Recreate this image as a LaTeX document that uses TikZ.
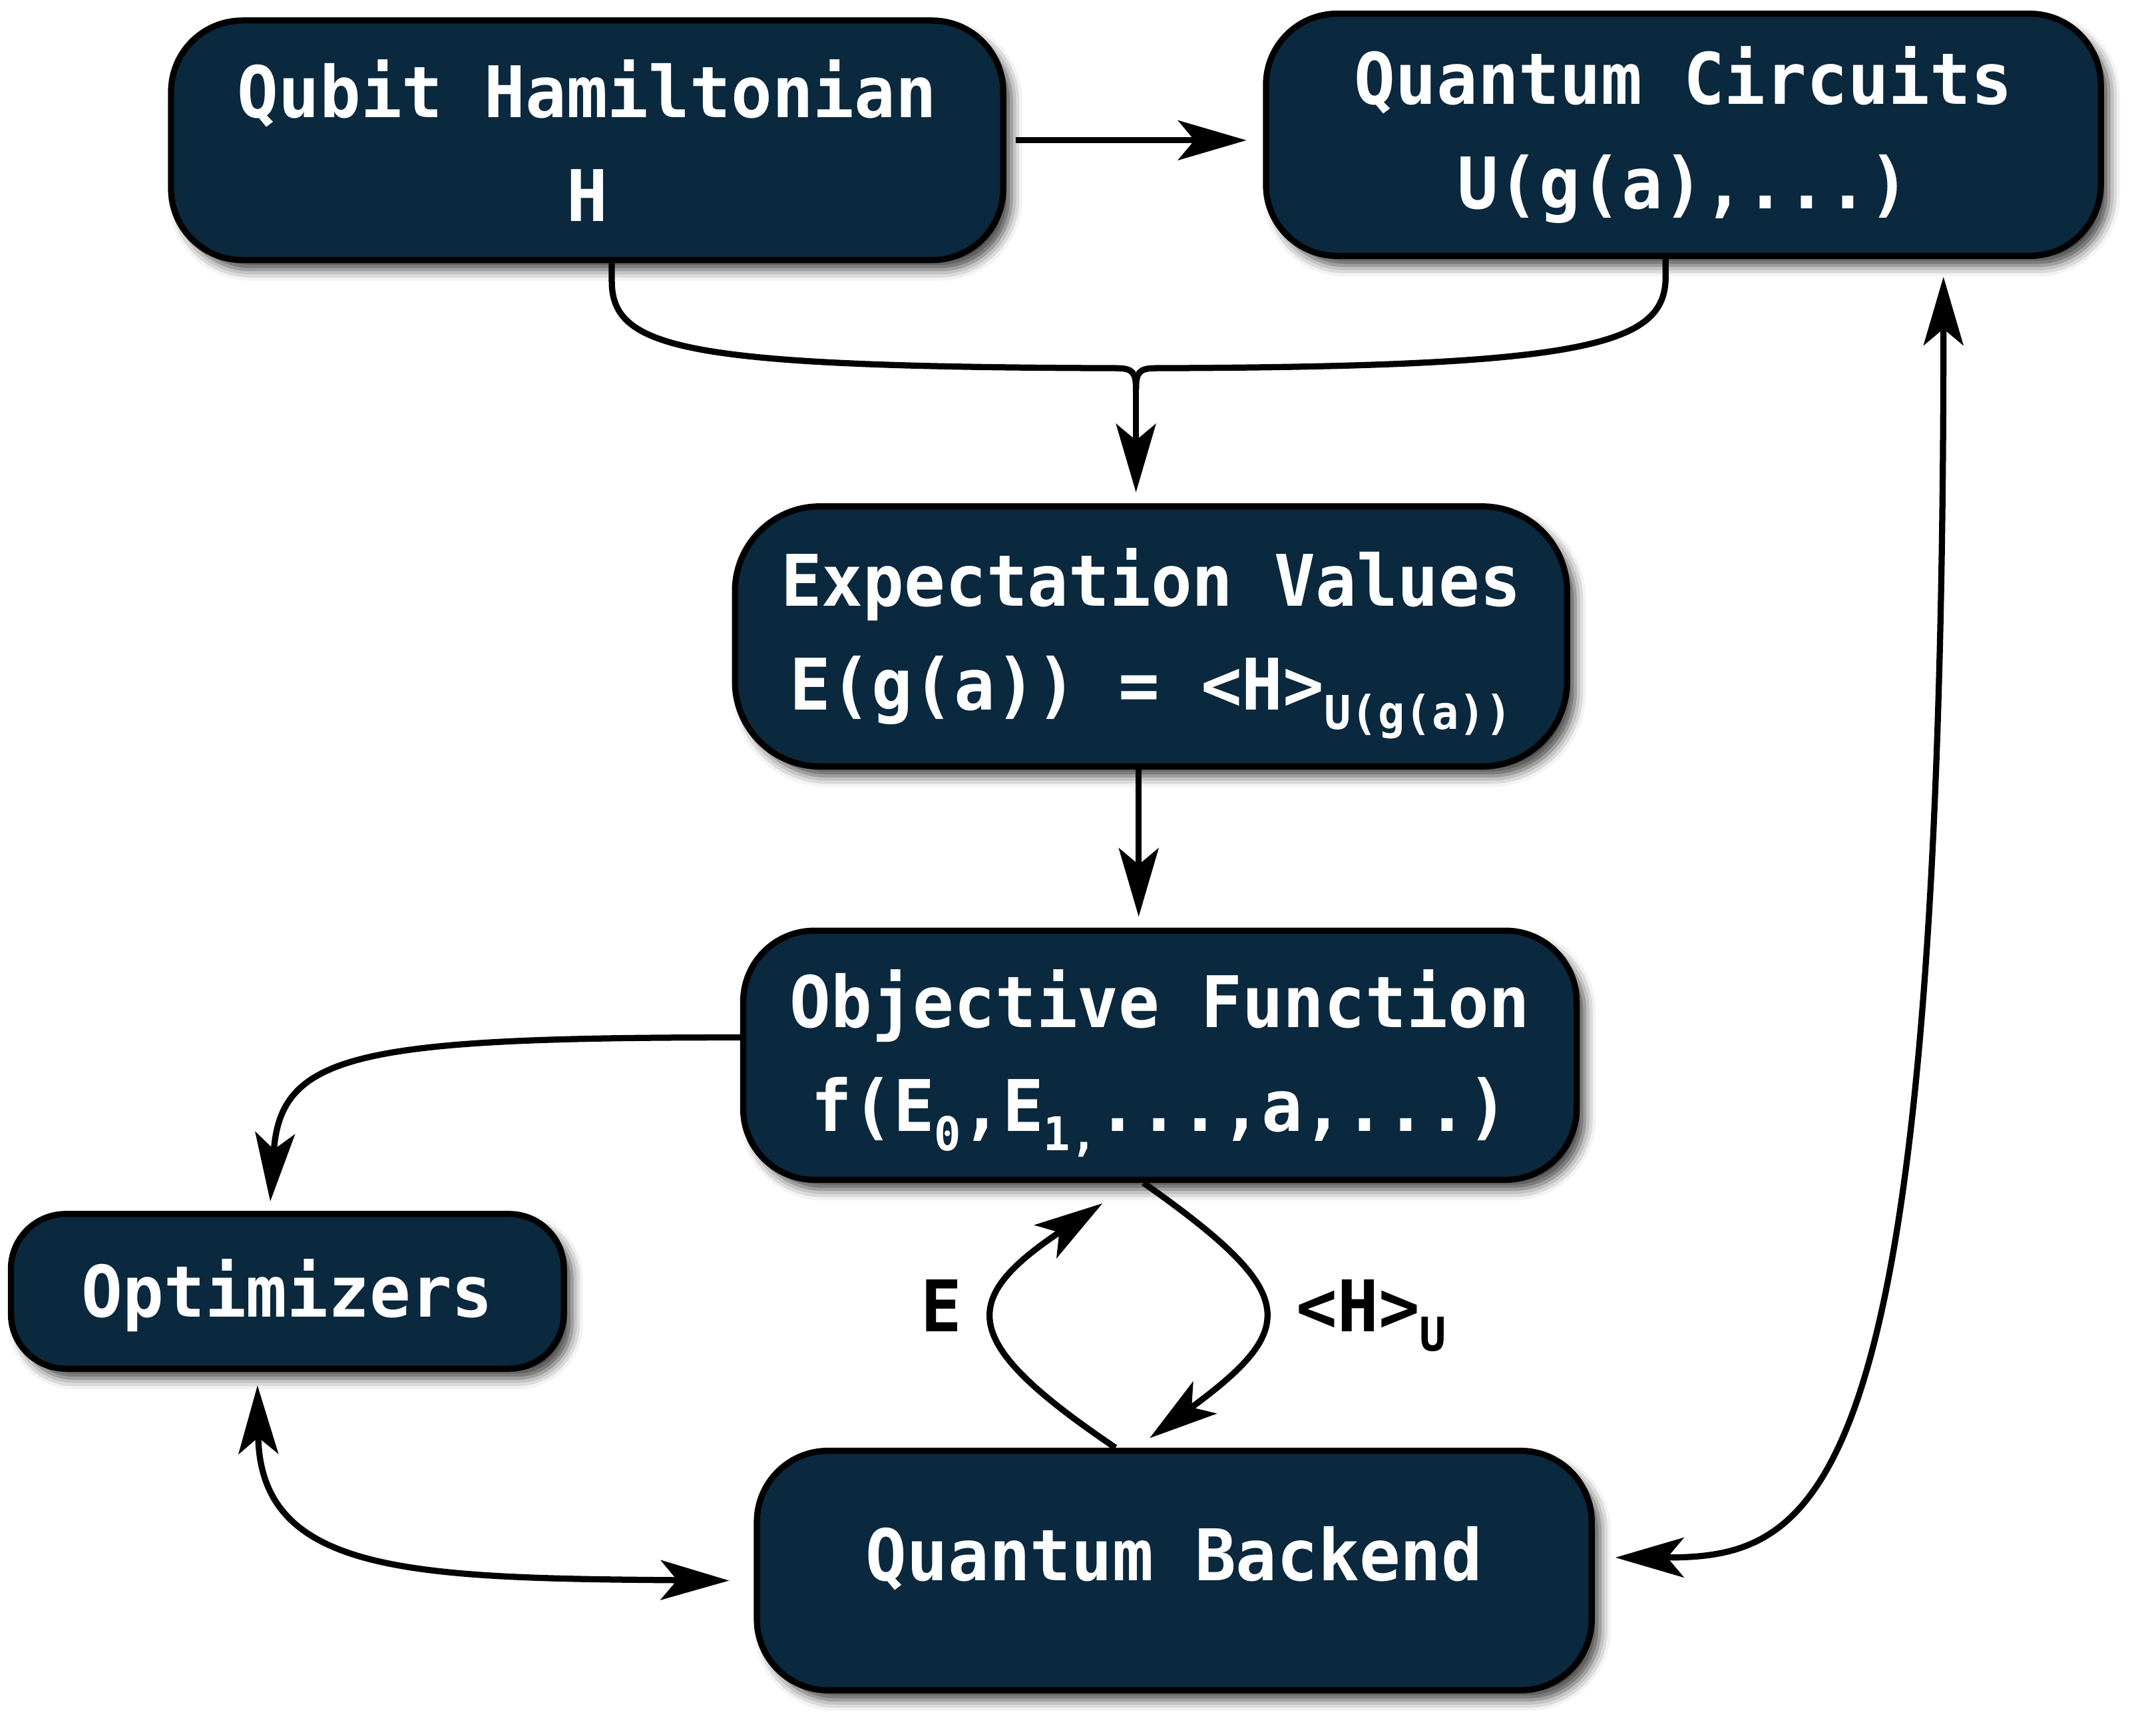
\documentclass[tikz,border=0pt]{standalone}
\usepackage{fontspec}
\usetikzlibrary{arrows.meta,shadows.blur}
\newfontfamily\dmono{DejaVu Sans Mono Bold}[FakeStretch=0.96]
\definecolor{boxfill}{RGB}{10,40,62}
\newcommand\sbs[1]{\raisebox{-14pt}[0pt][0pt]{\fontsize{34}{34}\selectfont #1}}
\newcommand\oneline[2]{\raisebox{#1}[0pt][0pt]{#2}}
\begin{document}
\begin{tikzpicture}[x=1pt,y=-1pt,
  box/.style={draw=black, line width=4.5pt, fill=boxfill, text=white, rounded corners=52pt,
    align=center, font=\dmono\fontsize{52}{76}\selectfont, inner sep=0pt,
    blur shadow={shadow xshift=6pt, shadow yshift=-7pt, shadow blur radius=8pt, shadow opacity=75}},
  conn/.style={line width=4.5pt, draw=black},
  tip/.style={-{Stealth[length=50pt,width=29pt,inset=12pt]}},
  both/.style={{Stealth[length=50pt,width=29pt,inset=12pt]}-{Stealth[length=50pt,width=29pt,inset=12pt]}},
  lab/.style={font=\dmono\fontsize{52}{76}\selectfont, text=black, inner sep=0pt}
]
\useasboundingbox (0,0) rectangle (1568,1268);

\node[box, minimum width=608pt, minimum height=175pt] (ham) at (429,102.5) {Qubit Hamiltonian\\H};
\node[box, minimum width=610pt, minimum height=177pt] (circ) at (1230,98.5) {Quantum Circuits\\U(g(a),...)};
\node[box, minimum width=608pt, minimum height=190pt, rounded corners=62pt] (expv) at (841,465) {Expectation Values\\E(g(a)) = <H>\sbs{U(g(a))}};
\node[box, minimum width=609pt, minimum height=182pt] (obj) at (847.5,771) {Objective Function\\f(E\sbs{0},E\sbs{1,}...,a,...)};
\node[box, minimum width=404pt, minimum height=113pt, rounded corners=40pt] (opt) at (210,943.5) {\oneline{-18.5pt}{Optimizers}};
\node[box, minimum width=610pt, minimum height=175pt] (back) at (858,1147.5) {\oneline{-7.5pt}{Quantum Backend}};

\node[lab, anchor=base] (lE) at (688,973) {E};
\node[lab, anchor=base west] (lH) at (947,973) {<H>\sbs{U}};

% Hamiltonian -> Circuits
\draw[conn,tip,shorten <=7pt,shorten >=12pt] (ham.east) -- (ham.east -| circ.west);

% merge into expectation values
\coordinate (m) at (830,285);
\draw[conn] ([xshift=18pt]ham.south) -- ++(0,13) .. controls +(0,50) and (500,268) .. (815,269) .. controls (828,269) and (830,272) .. (m);
\draw[conn] ([xshift=-13pt]circ.south) -- ++(0,13) .. controls +(0,50) and (1160,268) .. (845,269) .. controls (832,269) and (830,272) .. (m);
\draw[conn,tip,shorten >=8pt] (m) -- (m |- expv.north);

% expectation -> objective
\draw[conn,tip,shorten >=8pt] ([xshift=-9pt]expv.south) -- ([xshift=-9pt]expv.south |- obj.north);

% objective -> optimizers
\draw[conn,tip,shorten >=7pt] ([yshift=13pt]obj.west) .. controls (260,758) and (205,770) .. ([xshift=-13pt]opt.north);

% optimizers <-> backend
\draw[conn,both,shorten <=10pt,shorten >=18pt] ([xshift=-22pt]opt.south) .. controls (190,1150) and (300,1153) .. ([yshift=-7.5pt]back.west);

% loop between objective and backend
\draw[conn,tip] ([xshift=-43pt]back.north) .. controls (700,980) and (700,950) .. ([xshift=-42pt,yshift=-15pt]obj.south);
\draw[conn,tip] ([xshift=-12pt]obj.south) .. controls (950,945) and (950,970) .. ([xshift=-18pt,yshift=7pt]back.north);

% circuits <-> backend
\draw[conn,both] ([xshift=190pt,yshift=-13pt]circ.south) .. controls (1420,1100) and (1330,1138) .. ([xshift=15pt,yshift=9.5pt]back.east);
\end{tikzpicture}
\end{document}
